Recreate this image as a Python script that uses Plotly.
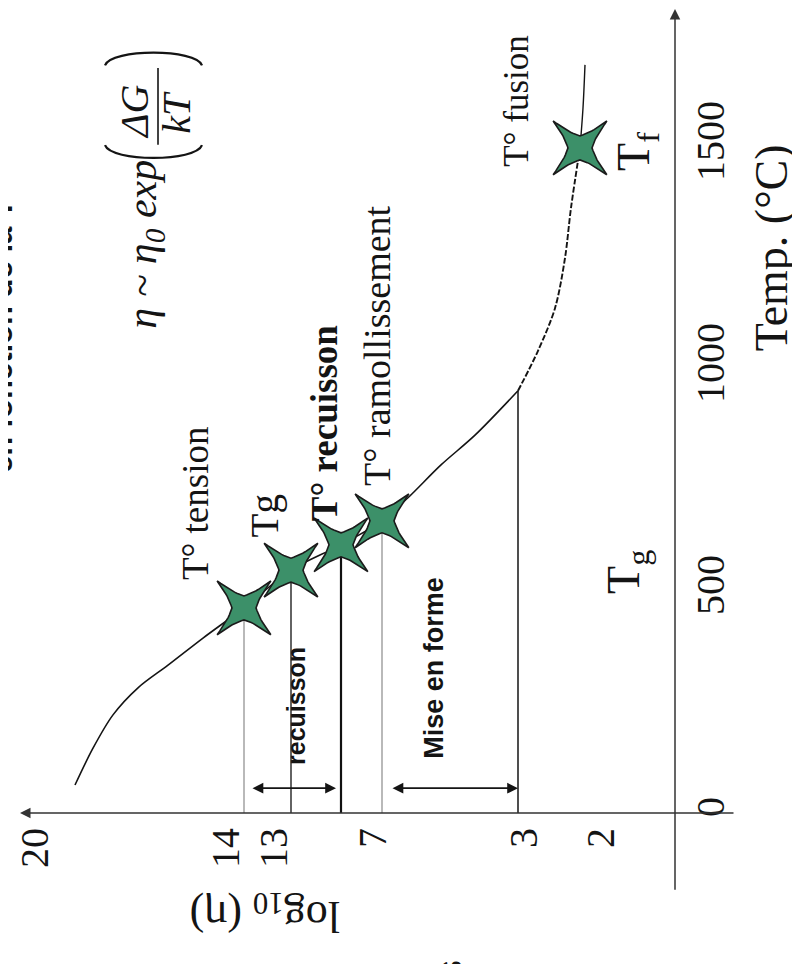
import math
import plotly.graph_objects as go

# ---------------- data ----------------
TEMP_TICKS = [0, 500, 1000, 1500]                      # °C
LOG_TICK_LABELS = ["20", "14", "13", "7", "3", "2"]      # log10(eta)
LOG_TICK_POS = [64.0, 44.9, 40.1, 30.2, 15.1, 7.4]       # schematic (non-linear) viscosity axis

# viscosity curve (schematic viscosity position, temperature °C)
CURVE_POS = [60.0, 58.2, 56.2, 53.7, 50.7, 47.2, 43.1, 38.4, 33.4, 29.3,
             26.7, 23.4, 20.0, 15.7, 13.7, 12.0, 11.0, 10.4, 9.5, 9.2, 9.0]
CURVE_TEMP = [63, 146, 221, 282, 333, 394, 462, 547, 604, 658,
              710, 784, 851, 951, 1041, 1137, 1250, 1363, 1498, 1588, 1685]
DASH_START, DASH_END = 13, 18   # dashed part of the curve (forming -> melting)

# characteristic points (stars)
STAR_NAMES = ["T° tension", "Tg", "T° recuisson", "T° ramollissement", "T° fusion"]
STAR_POS = [43.1, 38.4, 33.4, 29.3, 9.5]
STAR_TEMP = [462, 547, 604, 658, 1498]

# reference (drop) lines from the viscosity axis up to the curve
DROP_POS = [43.1, 38.4, 33.4, 29.3, 15.7]
DROP_TEMP = [462, 547, 604, 658, 951]
DROP_COLOR = ["#8a8a8a", "#222222", "#111111", "#8a8a8a", "#222222"]
DROP_WIDTH = [1.2, 1.4, 2.2, 1.2, 1.6]

# working ranges (double arrows)
RANGE_NAMES = ["recuisson", "Mise en forme"]
RANGE_FROM = [42.4, 28.4]
RANGE_TO = [33.9, 15.7]
RANGE_TEMP = [56, 56]

SERIF = "Liberation Serif"
SANS = "Liberation Sans"
INK = "#141414"
STAR_GREEN = "#3c9069"

# axis scales (pixels per unit) used to give the star markers a fixed pixel shape
X_RANGE = [66.7, -13.3]
Y_RANGE = [-358.1, 1813.1]
PX_PER_POS = 800 / (X_RANGE[0] - X_RANGE[1])
PX_PER_DEG = 964 / (Y_RANGE[1] - Y_RANGE[0])

fig = go.Figure()

# drop lines
for p, t, c, w in zip(DROP_POS, DROP_TEMP, DROP_COLOR, DROP_WIDTH):
    fig.add_trace(go.Scatter(x=[p, p], y=[0, t], mode="lines",
                             line=dict(color=c, width=w), hoverinfo="skip"))

# curve: solid lower part, dashed middle part, solid top part
fig.add_trace(go.Scatter(x=CURVE_POS[:DASH_START + 1], y=CURVE_TEMP[:DASH_START + 1],
                         mode="lines", line=dict(color=INK, width=1.6, shape="spline", smoothing=0.9)))
fig.add_trace(go.Scatter(x=CURVE_POS[DASH_START:DASH_END + 1], y=CURVE_TEMP[DASH_START:DASH_END + 1],
                         mode="lines", line=dict(color=INK, width=1.9, dash="6px,2px", shape="spline", smoothing=0.9)))
fig.add_trace(go.Scatter(x=CURVE_POS[DASH_END:], y=CURVE_TEMP[DASH_END:],
                         mode="lines", line=dict(color=INK, width=1.4, shape="spline", smoothing=0.9)))


# stars: 4-point star marker with slightly concave sides (fixed pixel size)
def star_marker(p0, t0, tip=38.0, inner=12.0, sag=0.13, steps=10):
    verts = []
    for k in range(8):
        a = math.radians(45 + 45 * k)
        r = tip if k % 2 == 0 else inner
        verts.append((r * math.cos(a), r * math.sin(a)))
    xs, ys = [], []
    for k in range(8):
        (x1, y1), (x2, y2) = verts[k], verts[(k + 1) % 8]
        for j in range(steps):
            f = j / steps
            px, py = x1 + (x2 - x1) * f, y1 + (y2 - y1) * f
            shrink = 1 - sag * math.sin(math.pi * f)
            xs.append(p0 - px * shrink / PX_PER_POS)
            ys.append(t0 - py * shrink / PX_PER_DEG)
    xs.append(xs[0])
    ys.append(ys[0])
    return xs, ys


for name, p, t in zip(STAR_NAMES, STAR_POS, STAR_TEMP):
    sx, sy = star_marker(p, t)
    fig.add_trace(go.Scatter(x=sx, y=sy, mode="lines", fill="toself", fillcolor=STAR_GREEN,
                             line=dict(color="#1b1b1b", width=1.6), name=name, hoverinfo="name"))

ann = []
# axes drawn as arrows
ann.append(dict(x=0, y=1811, ax=0, ay=-176, xref="x", yref="y", axref="x", ayref="y",
                text="", showarrow=True, arrowhead=2, arrowsize=1.4, arrowwidth=1.5,
                arrowcolor="#333333", standoff=0, startstandoff=0))
ann.append(dict(x=65.5, y=0, ax=-6.0, ay=0, xref="x", yref="y", axref="x", ayref="y",
                text="", showarrow=True, arrowhead=2, arrowsize=1.4, arrowwidth=1.5,
                arrowcolor="#333333", standoff=0, startstandoff=0))

# double arrows for ranges
for a, b, t in zip(RANGE_FROM, RANGE_TO, RANGE_TEMP):
    ann.append(dict(x=b, y=t, ax=a, ay=t, xref="x", yref="y", axref="x", ayref="y",
                    text="", showarrow=True, arrowhead=2, startarrowhead=2, arrowside="end+start",
                    arrowsize=1.2, startarrowsize=1.2, arrowwidth=1.8, arrowcolor=INK,
                    standoff=0, startstandoff=0))


def txt(text, x, y, size, family=SERIF, angle=-90, xref="x", yref="y", **kw):
    d = dict(text=text, x=x, y=y, xref=xref, yref=yref, showarrow=False, textangle=angle,
             font=dict(family=family, size=size, color=INK), xanchor="center", yanchor="middle")
    d.update(kw)
    ann.append(d)


txt("T° tension", 48.0, 698, 37)
txt("Tg", 41.0, 668, 39)
txt("<b>T° recuisson</b>", 35.1, 878, 37)
txt("T° ramollissement", 29.8, 1052, 38)
txt("T° fusion", 15.8, 1604, 35)
txt("<b>recuisson</b>", 37.9, 241, 25, family=SANS)
txt("<b>Mise en forme</b>", 24.1, 327, 27, family=SANS)
txt("T<sub>f</sub>", 3.8, 1489, 46)
txt("T<sub>g</sub>", 4.8, 543, 46)
txt("Temp. (°C)", -9.6, 1272, 46)
txt("log<sub>10</sub> (η)", 41.0, -225, 44, angle=180)

# formula  eta ~ eta0 exp(dG/kT)
txt("<i>η ~ η<sub>0</sub>&nbsp;exp</i>", 53.0, 1280, 42)
txt("<i>ΔG</i>", 54.0, 1579, 40)
txt("<i>kT</i>", 49.8, 1577, 40)

# partially visible texts at page edges
txt("<b>en fonction de la T</b>", 0.016, 0.66, 31, family=SANS, xref="paper", yref="paper",
    xanchor="right")
txt("<b>S</b>", 0.554, 0.002, 30, family=SANS, xref="paper", yref="paper")

# fraction bar and large parentheses of the formula
shapes = [
    dict(type="line", xref="x", yref="y", x0=51.7, x1=51.7, y0=1505, y1=1678,
         line=dict(color=INK, width=1.6)),
    dict(type="path", xref="x", yref="y",
         path="M 57.0,1504 C 56.4,1466 47.9,1466 47.3,1504", line=dict(color=INK, width=2.2)),
    dict(type="path", xref="x", yref="y",
         path="M 57.0,1684 C 56.4,1722 47.9,1722 47.3,1684", line=dict(color=INK, width=2.2)),
]

fig.update_layout(
    template="none",
    width=800, height=964,
    margin=dict(l=0, r=0, t=0, b=0),
    paper_bgcolor="white", plot_bgcolor="white",
    showlegend=False,
    annotations=ann,
    shapes=shapes,
    xaxis=dict(range=X_RANGE, domain=[0, 1], anchor="free", position=1 - 805 / 964,
               showgrid=False, zeroline=False, showline=False, ticks="",
               tickvals=LOG_TICK_POS, ticktext=LOG_TICK_LABELS, tickangle=-90,
               tickfont=dict(family=SERIF, size=40, color=INK),
               ticklabelstandoff=6, automargin=False, fixedrange=True),
    yaxis=dict(range=Y_RANGE, domain=[0, 1], anchor="free", position=667 / 800,
               side="right", showgrid=False, zeroline=False, showline=False, ticks="",
               tickvals=TEMP_TICKS, tickangle=-90,
               tickfont=dict(family=SERIF, size=40, color=INK),
               ticklabelstandoff=8, automargin=False, fixedrange=True),
)

fig.write_html("out.html")
